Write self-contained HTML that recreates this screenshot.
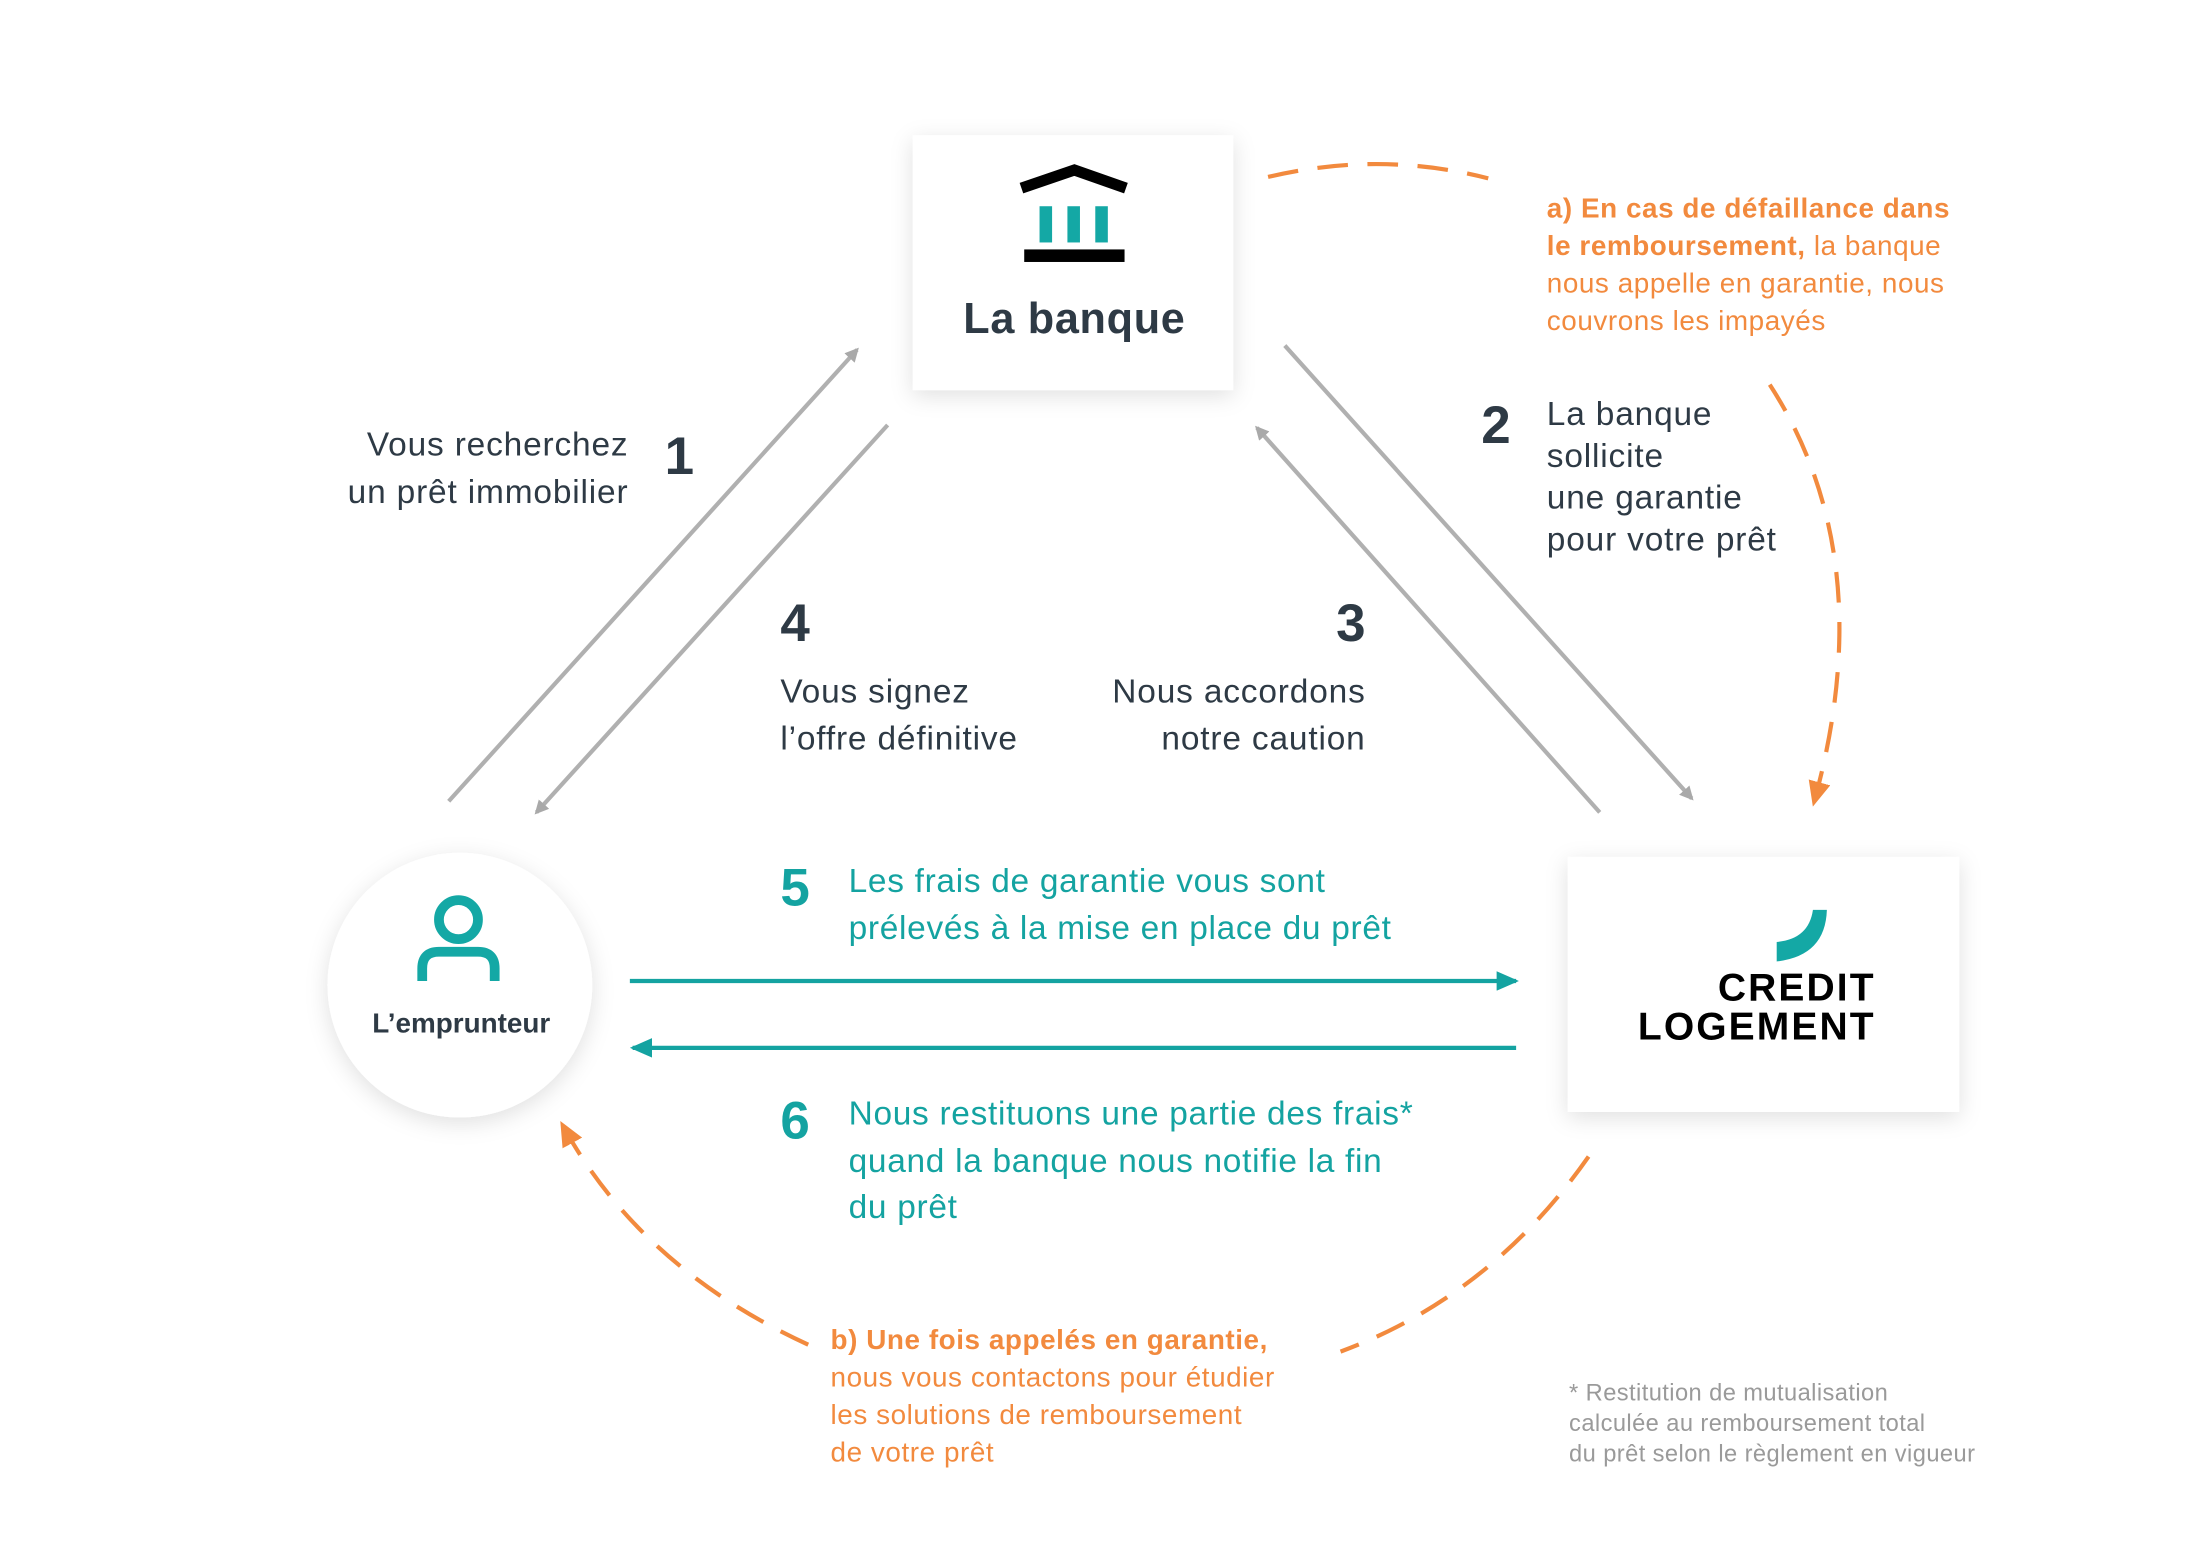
<!DOCTYPE html>
<html><head><meta charset="utf-8"><style>
html,body{margin:0;padding:0;background:#fff;}
svg{display:block}
text{font-family:"Liberation Sans",sans-serif;}
</style></head><body>
<svg width="2185" height="1564" viewBox="0 0 1568 1122.4" preserveAspectRatio="none" xmlns="http://www.w3.org/2000/svg">
<defs>
<filter id="sh" x="-20%" y="-20%" width="140%" height="140%"><feDropShadow dx="0" dy="4" stdDeviation="8" flood-color="#000" flood-opacity="0.12"/></filter>
<marker id="ag" markerWidth="10" markerHeight="10" refX="8" refY="5" orient="auto" markerUnits="userSpaceOnUse"><path d="M0,0 L10,5 L0,10 z" fill="#a9a9a9"/></marker>
<marker id="at" markerWidth="16" markerHeight="14" refX="14" refY="7" orient="auto" markerUnits="userSpaceOnUse"><path d="M0,0 L16,7 L0,14 z" fill="#14a3a1"/></marker>
<marker id="ao" markerWidth="18" markerHeight="16" refX="14" refY="8" orient="auto" markerUnits="userSpaceOnUse"><path d="M0,0 L18,8 L0,16 z" fill="#f28a3e"/></marker>
</defs>
<rect width="1568" height="1122.4" fill="#fff"/>
<rect x="655" y="97" width="230" height="183" fill="#fff" filter="url(#sh)"/>
<rect x="1125" y="615" width="281" height="183" fill="#fff" filter="url(#sh)"/>
<circle cx="330" cy="707" r="95" fill="#fff" filter="url(#sh)"/>
<path d="M733,135 L771,122 L808,135" fill="none" stroke="#000" stroke-width="8" stroke-linejoin="miter"/>
<rect x="746" y="148" width="9" height="26" fill="#14a8a5"/>
<rect x="766" y="148" width="9" height="26" fill="#14a8a5"/>
<rect x="786" y="148" width="9" height="26" fill="#14a8a5"/>
<rect x="735" y="179" width="72" height="9" fill="#000"/>
<text x="771" y="239" text-anchor="middle" font-size="31" font-weight="bold" fill="#2e3a45" letter-spacing="0.5">La banque</text>
<circle cx="329" cy="660" r="14" fill="none" stroke="#14a8a5" stroke-width="7"/>
<path d="M303,704 L303,695 Q303,683 315,683 L343,683 Q355,683 355,695 L355,704" fill="none" stroke="#14a8a5" stroke-width="7"/>
<text x="331" y="741" text-anchor="middle" font-size="20" font-weight="bold" fill="#2e3a45">L’emprunteur</text>
<path d="M1275,690 L1275,676 Q1298,674 1301,653 L1311,653 Q1310,686 1275,690 z" fill="#14a8a5"/>
<text x="1346" y="718" text-anchor="end" font-size="28" font-weight="bold" fill="#000" letter-spacing="1.5">CREDIT</text>
<text x="1346" y="746" text-anchor="end" font-size="28" font-weight="bold" fill="#000" letter-spacing="1.5">LOGEMENT</text>
<g stroke="#b0b0b0" stroke-width="3" fill="none">
<line x1="322" y1="575" x2="615" y2="251" marker-end="url(#ag)"/>
<line x1="637" y1="305" x2="385" y2="583" marker-end="url(#ag)"/>
<line x1="1148" y1="583" x2="902" y2="307" marker-end="url(#ag)"/>
<line x1="922" y1="248" x2="1214" y2="573" marker-end="url(#ag)"/>
</g>
<line x1="452" y1="704" x2="1088" y2="704" stroke="#14a3a1" stroke-width="3" marker-end="url(#at)"/>
<line x1="1088" y1="752" x2="454" y2="752" stroke="#14a3a1" stroke-width="3" marker-end="url(#at)"/>
<g stroke="#f28a3e" stroke-width="3" fill="none" stroke-dasharray="22,14">
<path d="M910,127 Q990,108 1068,128"/>
<path d="M1270,276 Q1350,400 1302,575" marker-end="url(#ao)"/>
<path d="M1140,830 Q1070,930 962,970"/>
<path d="M580,965 Q460,910 404,808" marker-end="url(#ao)"/>
</g>
<g font-size="24" fill="#2e3a45" letter-spacing="0.6">
<text x="451" y="327" text-anchor="end">Vous recherchez</text>
<text x="451" y="361" text-anchor="end">un prêt immobilier</text>
<text x="1110" y="305">La banque</text>
<text x="1110" y="335">sollicite</text>
<text x="1110" y="365">une garantie</text>
<text x="1110" y="395">pour votre prêt</text>
<text x="560" y="504">Vous signez</text>
<text x="560" y="538">l’offre définitive</text>
<text x="980" y="504" text-anchor="end">Nous accordons</text>
<text x="980" y="538" text-anchor="end">notre caution</text>
</g>
<g font-size="38" font-weight="bold" fill="#2e3a45">
<text x="477" y="340">1</text>
<text x="1063" y="318">2</text>
<text x="980" y="460" text-anchor="end">3</text>
<text x="560" y="460">4</text>
</g>
<g font-size="38" font-weight="bold" fill="#14a3a1">
<text x="560" y="650">5</text>
<text x="560" y="817">6</text>
</g>
<g font-size="24" fill="#14a3a1" letter-spacing="0.5">
<text x="609" y="640">Les frais de garantie vous sont</text>
<text x="609" y="674">prélevés à la mise en place du prêt</text>
<text x="609" y="807">Nous restituons une partie des frais*</text>
<text x="609" y="841">quand la banque nous notifie la fin</text>
<text x="609" y="874">du prêt</text>
</g>
<g font-size="20" fill="#f28a3e" letter-spacing="0.4">
<text x="1110" y="156" font-weight="bold">a) En cas de défaillance dans</text>
<text x="1110" y="183"><tspan font-weight="bold">le remboursement,</tspan> la banque</text>
<text x="1110" y="210">nous appelle en garantie, nous</text>
<text x="1110" y="237">couvrons les impayés</text>
<text x="596" y="968" font-weight="bold">b) Une fois appelés en garantie,</text>
<text x="596" y="995">nous vous contactons pour étudier</text>
<text x="596" y="1022">les solutions de remboursement</text>
<text x="596" y="1049">de votre prêt</text>
</g>
<g font-size="17" fill="#9a9a9a" letter-spacing="0.3">
<text x="1126" y="1005">* Restitution de mutualisation</text>
<text x="1126" y="1027">calculée au remboursement total</text>
<text x="1126" y="1049">du prêt selon le règlement en vigueur</text>
</g>
</svg>
</body></html>
